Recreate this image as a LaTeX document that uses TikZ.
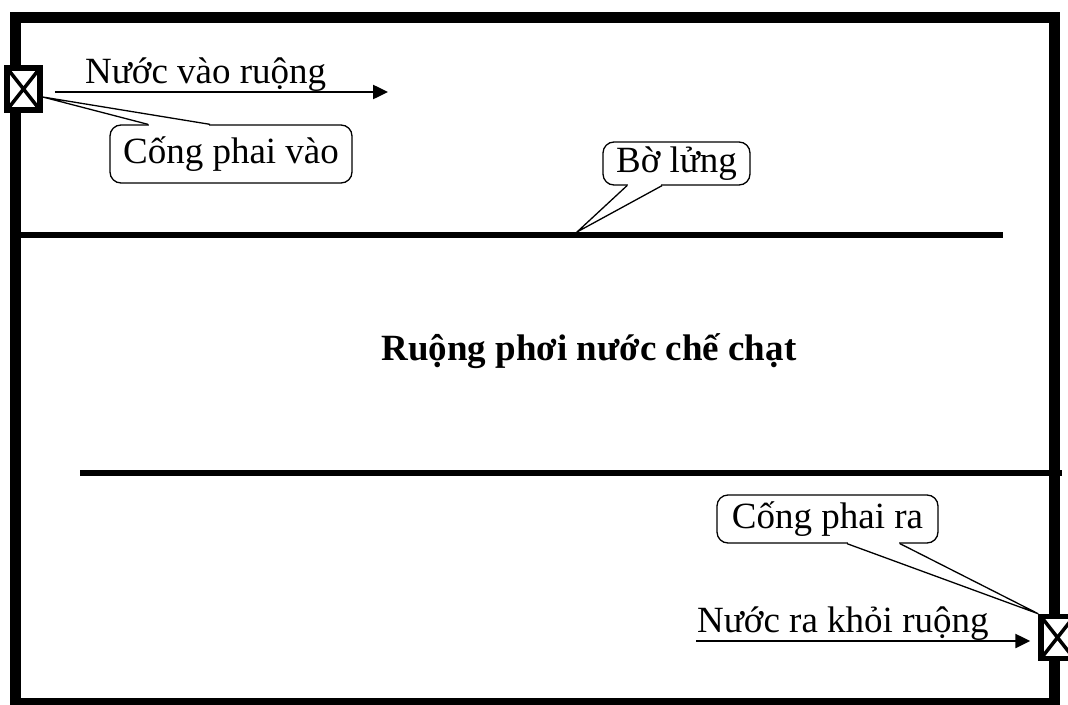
\documentclass[tikz,border=0pt]{standalone}
\usepackage{fontspec}
\setmainfont{Liberation Serif}
\usetikzlibrary{arrows.meta}
\tikzset{
  field border/.style={line width=11pt},
  bund/.style={line width=5.5pt},
  gate/.style={draw, fill=white, line width=5.5pt, minimum width=33pt, minimum height=42pt, inner sep=0pt,
    path picture={\draw[line width=3.5pt]
      (path picture bounding box.north west) -- (path picture bounding box.south east)
      (path picture bounding box.north east) -- (path picture bounding box.south west);}},
  flow/.style={line width=2.5pt, -{Triangle[length=15pt, width=14pt]}},
  label box/.style={draw, fill=white, rounded corners=11pt, line width=1.3pt, inner sep=0pt},
  tail gap/.style={draw=white, line width=3pt},
  tail/.style={line width=1.3pt},
}

\begin{document}
\begin{tikzpicture}[x=1pt, y=-1pt, every node/.style={font=\fontsize{37}{44}\selectfont}]
  \useasboundingbox (0,0) rectangle (1068,704);
  % field border and the two bunds
  \draw[field border] (15.5,17.5) rectangle (1054.5,703.5);
  \coordinate (b1w) at (21,235);  \coordinate (b1e) at (1003,235);
  \coordinate (b2w) at (80,473);  \coordinate (b2e) at (1062,473);
  \draw[bund] (b1w) -- (b1e);
  \draw[bund] (b2w) -- (b2e);

  % gates
  \node[gate] (gin)  at (23.5,89)    {};
  \node[gate] (gout) at (1057.5,637.5) {};

  % water in / out
  \coordinate (inflow)  at (388,92);
  \coordinate (outflow) at (696,641);
  \draw[flow] ([shift={(12,3)}]gin.east) -- (inflow);
  \draw[flow] (outflow) -- ([shift={(-8,3.5)}]gout.west);
  \node[anchor=base west, inner sep=0pt] (tin)  at (85,83)  {Nước vào ruộng};
  \node[anchor=base west, inner sep=0pt] (tout) at (697,632) {Nước ra khỏi ruộng};

  \node[anchor=base, inner sep=0pt, font=\fontsize{37}{44}\selectfont\bfseries] (field) at (589,360)
    {Ruộng phơi nước chế chạt};

  % callouts
  \node[label box, minimum width=242pt, minimum height=58pt] (cpv) at (231,154) {Cống phai vào};
  \draw[tail gap] ([xshift=-82pt]cpv.north) -- ([xshift=-22pt]cpv.north);
  \draw[tail] ([xshift=-83pt]cpv.north) -- ([shift={(0,8)}]gin.east) -- ([xshift=-21pt]cpv.north);

  \coordinate (bltip) at (577,232);
  \node[label box, minimum width=147pt, minimum height=43pt] (bl) at (676.5,163.5) {Bờ lửng};
  \draw[tail gap] ([xshift=-48.5pt]bl.south) -- ([xshift=-15.5pt]bl.south);
  \draw[tail] ([xshift=-49.5pt]bl.south) -- (bltip) -- ([xshift=-14.5pt]bl.south);

  \node[label box, minimum width=221pt, minimum height=48pt] (cpr) at (827.5,519) {Cống phai ra};
  \draw[tail gap] ([xshift=20.5pt]cpr.south) -- ([xshift=71.5pt]cpr.south);
  \draw[tail] ([xshift=19.5pt]cpr.south) -- (gout.north west) -- ([xshift=72.5pt]cpr.south);
\end{tikzpicture}
\end{document}
